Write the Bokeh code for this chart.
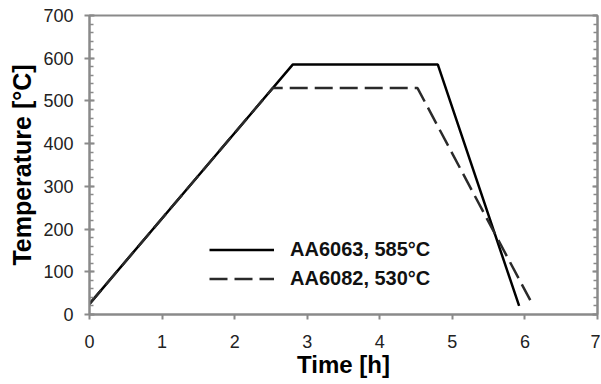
from bokeh.plotting import figure
from bokeh.models import Range1d, LinearAxis, Legend, LegendItem, FixedTicker
from bokeh.embed import file_html
from bokeh.resources import INLINE

# Data
t_6063 = [0.0, 2.8, 4.8, 5.92]
T_6063 = [25, 585, 585, 20]
t_6082 = [0.0, 2.525, 4.52, 6.1]
T_6082 = [25, 530, 530, 25]
label_6063 = "AA6063, 585°C"
label_6082 = "AA6082, 530°C"
x_ticks = [0, 1, 2, 3, 4, 5, 6, 7]
y_ticks = [0, 100, 200, 300, 400, 500, 600, 700]

FONT = "Liberation Sans"
AX = "#8a8a8a"

p = figure(width=600, height=383, output_backend="svg", toolbar_location=None,
           x_range=Range1d(0, 7), y_range=Range1d(0, 700),
           min_border_left=89, min_border_right=3, min_border_top=15, min_border_bottom=69)
p.xgrid.visible = False
p.ygrid.visible = False
p.outline_line_color = AX
p.outline_line_width = 2
p.background_fill_color = "white"
p.border_fill_color = "white"

r1 = p.line(t_6063, T_6063, line_color="black", line_width=2.5)
r2 = p.line(t_6082, T_6082, line_color="#2a2a2a", line_width=2.5, line_dash="18 7")

# X axis
xa = p.xaxis[0]
xa.ticker = FixedTicker(ticks=x_ticks)
xa.axis_label = "Time [h]"
xa.axis_label_text_font = FONT
xa.axis_label_text_font_style = "bold"
xa.axis_label_text_font_size = "24px"
xa.axis_label_text_color = "black"
xa.axis_label_standoff = 0
xa.major_label_text_font = FONT
xa.major_label_text_font_size = "18px"
xa.major_label_text_color = "#222222"
xa.major_label_standoff = 15
xa.major_tick_in = 0
xa.major_tick_out = 5
xa.minor_tick_in = 0
xa.minor_tick_out = 0
xa.axis_line_color = AX
xa.axis_line_width = 2
xa.major_tick_line_color = AX
xa.major_tick_line_width = 2

# Y axis
ya = p.yaxis[0]
ya.ticker = FixedTicker(ticks=y_ticks, minor_ticks=list(range(0, 701, 20)))
ya.axis_label = "Temperature [°C]"
ya.axis_label_text_font = FONT
ya.axis_label_text_font_style = "bold"
ya.axis_label_text_font_size = "25px"
ya.axis_label_text_color = "black"
ya.axis_label_standoff = 4
ya.major_label_text_font = FONT
ya.major_label_text_font_size = "18px"
ya.major_label_text_color = "#222222"
ya.major_label_standoff = 11
ya.major_tick_in = 5
ya.major_tick_out = 5
ya.minor_tick_in = 4
ya.minor_tick_out = 0
ya.axis_line_color = AX
ya.axis_line_width = 2
ya.major_tick_line_color = AX
ya.major_tick_line_width = 2
ya.minor_tick_line_color = AX
ya.minor_tick_line_width = 1.5

# Right axis (no labels)
ra = LinearAxis(ticker=FixedTicker(ticks=y_ticks, minor_ticks=list(range(0, 701, 20))))
ra.major_label_text_font_size = "0px"
ra.major_label_text_alpha = 0
ra.major_tick_in = 5
ra.major_tick_out = 0
ra.minor_tick_in = 4
ra.minor_tick_out = 0
ra.axis_line_color = AX
ra.axis_line_width = 2
ra.major_tick_line_color = AX
ra.major_tick_line_width = 2
ra.minor_tick_line_color = AX
ra.minor_tick_line_width = 1.5
ra.major_label_standoff = 0
p.add_layout(ra, "right")

legend = Legend(items=[LegendItem(label=label_6063, renderers=[r1]),
                       LegendItem(label=label_6082, renderers=[r2])],
                location=(120, 21))
legend.label_text_font = FONT
legend.label_text_font_style = "bold"
legend.label_text_font_size = "20px"
legend.label_text_color = "#111111"
legend.glyph_width = 65
legend.glyph_height = 29
legend.label_height = 29
legend.label_standoff = 16
legend.spacing = 0
legend.padding = 0
legend.margin = 0
legend.border_line_alpha = 0
legend.background_fill_alpha = 0
p.add_layout(legend, "center")

open("out.html", "w").write(file_html(p, INLINE))
